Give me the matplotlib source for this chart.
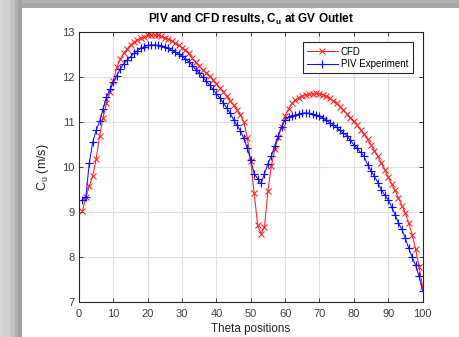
import matplotlib
matplotlib.use("Agg")
import matplotlib.pyplot as plt
from matplotlib.patches import Rectangle

theta = list(range(1, 101))

cfd = [9.03, 9.33, 9.59, 9.81, 10.19, 10.70, 11.10, 11.42, 11.68, 11.92,
       12.22, 12.40, 12.53, 12.63, 12.72, 12.78, 12.83, 12.87, 12.90, 12.93,
       12.94, 12.94, 12.93, 12.91, 12.88, 12.85, 12.81, 12.76, 12.71, 12.66,
       12.60, 12.53, 12.42, 12.33, 12.25, 12.17, 12.10, 12.02, 11.94, 11.86,
       11.77, 11.68, 11.58, 11.48, 11.38, 11.28, 11.17, 11.00, 10.66, 10.13,
       9.42, 8.72, 8.52, 8.67, 9.48, 10.02, 10.40, 10.68, 10.90, 11.15,
       11.30, 11.42, 11.50, 11.55, 11.59, 11.61, 11.62, 11.63, 11.64, 11.63,
       11.61, 11.58, 11.53, 11.48, 11.42, 11.35, 11.27, 11.19, 11.10, 11.02,
       10.93, 10.83, 10.73, 10.62, 10.50, 10.37, 10.24, 10.10, 9.95, 9.79,
       9.63, 9.49, 9.32, 9.15, 8.98, 8.76, 8.50, 8.18, 7.79, 7.36]

piv = [9.28, 9.35, 10.10, 10.56, 10.82, 11.02, 11.30, 11.56, 11.73, 11.90,
       12.04, 12.18, 12.30, 12.38, 12.46, 12.53, 12.59, 12.64, 12.68, 12.71,
       12.72, 12.72, 12.71, 12.70, 12.68, 12.64, 12.60, 12.56, 12.52, 12.47,
       12.41, 12.34, 12.26, 12.17, 12.09, 12.00, 11.92, 11.83, 11.73, 11.63,
       11.54, 11.43, 11.32, 11.20, 11.06, 10.93, 10.81, 10.64, 10.42, 10.16,
       9.86, 9.75, 9.64, 9.86, 10.08, 10.25, 10.48, 10.70, 10.90, 11.05,
       11.12, 11.15, 11.16, 11.18, 11.20, 11.21, 11.20, 11.18, 11.16, 11.13,
       11.10, 11.05, 10.99, 10.95, 10.89, 10.82, 10.76, 10.70, 10.60, 10.50,
       10.42, 10.33, 10.24, 10.06, 9.92, 9.80, 9.66, 9.50, 9.38, 9.28,
       9.12, 8.95, 8.76, 8.62, 8.42, 8.20, 8.00, 7.82, 7.58, 7.26]

xticks = list(range(0, 101, 10))
yticks = list(range(7, 14))

plt.rcParams['font.family'] = ['Liberation Sans', 'DejaVu Sans']

W, H = 459, 337
fig = plt.figure(figsize=(W / 100, H / 100), dpi=100)
fig.patch.set_facecolor('white')

# gray frame shadow on left and top
left_cols = [(0, 3, '#d9d9d9'), (3, 10, '#d0d0d0'), (10, 15, '#c2c2c2'),
             (15, 18, '#b0b0b0'), (18, 22, '#a2a2a2')]
for x0, x1, c in left_cols:
    fig.patches.append(Rectangle((x0 / W, 0), (x1 - x0) / W, 1, transform=fig.transFigure,
                                 facecolor=c, edgecolor='none', zorder=-10))
top_rows = [(0, 3, '#b4b4b4'), (3, 8, '#a6a6a6')]
for y0, y1, c in top_rows:
    fig.patches.append(Rectangle((22 / W, 1 - y1 / H), 1 - 22 / W, (y1 - y0) / H,
                                 transform=fig.transFigure, facecolor=c,
                                 edgecolor='none', zorder=-10))

ax = fig.add_axes([79 / W, 1 - 302.3 / H, (422.5 - 79) / W, (302.3 - 32.3) / H])
ax.plot(theta, cfd, '-x', color='#ff2020', lw=0.75, ms=4.3, mew=0.75, label='CFD')
ax.plot(theta, piv, '-+', color='#1010ff', lw=0.75, ms=6.0, mew=0.85, label='PIV Experiment')

ax.set_xlim(0, 100)
ax.set_ylim(7, 13)
ax.set_xticks(xticks)
ax.set_yticks(yticks)
ax.grid(True, color='#e0e0e0', lw=0.8)
ax.set_axisbelow(True)
for s in ax.spines.values():
    s.set_color('#262626')
    s.set_linewidth(0.8)
ax.tick_params(direction='in', top=True, right=True, length=3, width=0.6,
               colors='#262626', labelsize=8, labelcolor='#404040')
ax.tick_params(axis='x', pad=5)
ax.tick_params(axis='y', pad=3)

ax.set_title('PIV and CFD results, C$_\\mathregular{u}$ at GV Outlet', fontsize=8.5,
             fontweight='bold', color='#000000', pad=7)
ax.set_xlabel('Theta positions', fontsize=8.4, color='#262626', labelpad=2.5)
ax.set_ylabel('C$_\\mathregular{u}$ (m/s)', fontsize=9, color='#262626', labelpad=8)

leg = ax.legend(loc='upper right', bbox_to_anchor=(0.9715, 0.963), borderaxespad=0,
                fontsize=7, frameon=True, fancybox=False, framealpha=1, borderpad=0.45,
                handlelength=3.2, handletextpad=0.3, labelspacing=0.25)
leg.get_frame().set_edgecolor('#262626')
leg.get_frame().set_linewidth(0.8)

fig.savefig('out.png', dpi=100)
